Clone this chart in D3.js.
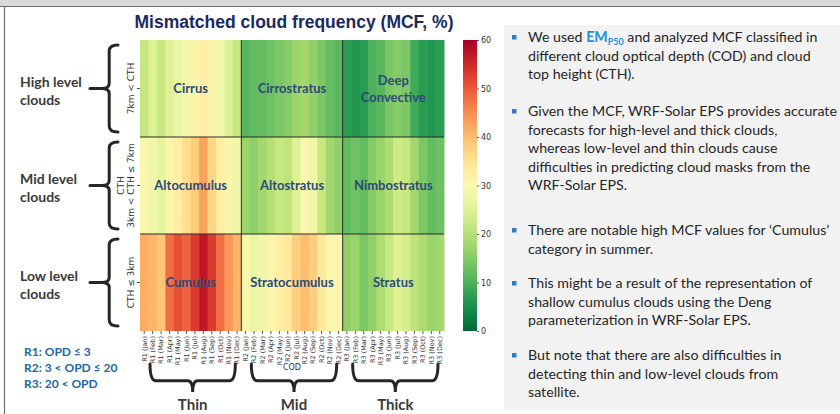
<!DOCTYPE html>
<html>
<head>
<meta charset="utf-8">
<script src="https://cdn.jsdelivr.net/npm/d3@7"></script>
<style>
    html, body { margin: 0; padding: 0; background: #fff; }
    svg { display: block; }
</style>
</head>
<body>
<svg id="slide" width="840" height="414"></svg>
<script>
// Categories
const months = ["Jan", "Feb", "Mar", "Apr", "May", "Jun", "Jul", "Aug", "Sep", "Oct", "Nov", "Dec"];
const regimes = ["R1", "R2", "R3"];
const levels = ["High", "Mid", "Low"];

// MCF (%) per column: R1 Jan..Dec, R2 Jan..Dec, R3 Jan..Dec
const highMCF = [22, 25, 22, 25, 27, 29, 31, 33, 31, 28, 25, 22,
                 11, 12, 12, 13, 14, 15, 17, 18, 16, 14, 12, 11,
                 7, 6, 7, 10, 11, 14, 15, 14, 9, 7, 6, 7];
const midMCF = [30, 28, 26, 31, 33, 36, 38, 43, 37, 33, 31, 28,
                17, 16, 18, 20, 22, 21, 25, 30, 28, 22, 18, 16,
                12, 13, 12, 15, 17, 19, 23, 22, 18, 14, 12, 13];
const lowMCF = [42, 41, 39, 48, 51, 49, 53, 57, 53, 48, 44, 41,
                31, 27, 28, 31, 33, 34, 38, 40, 38, 34, 30, 31,
                16, 17, 14, 16, 19, 22, 25, 24, 21, 19, 17, 18];

// Cloud type names per cell block
const cloudTypes = [
    ["Cirrus", "Cirrostratus", "Deep|Convective"],
    ["Altocumulus", "Altostratus", "Nimbostratus"],
    ["Cumulus", "Stratocumulus", "Stratus"]
];

const levelNames = ["High level|clouds", "Mid level|clouds", "Low level|clouds"];
const cthLabels = ["7km < CTH", "CTH|3km < CTH ≤ 7km", "CTH ≤ 3km"];
const groupNames = ["Thin", "Mid", "Thick"];
const rangeNotes = ["R1: OPD ≤ 3", "R2: 3 < OPD ≤ 20", "R3: 20 < OPD"];
const colorTicks = [0, 10, 20, 30, 40, 50, 60];

// Bullet text (lines as on the slide)
const bullets = [
    ["We used {EM} and analyzed MCF classified in", "different cloud optical depth (COD) and cloud", "top height (CTH)."],
    ["Given the MCF, WRF-Solar EPS provides accurate", "forecasts for high-level and thick clouds,", "whereas low-level and thin clouds cause", "difficulties in predicting cloud masks from the", "WRF-Solar EPS."],
    ["There are notable high MCF values for ‘Cumulus’", "category in summer."],
    ["This might be a result of the representation of", "shallow cumulus clouds using the Deng", "parameterization in WRF-Solar EPS."],
    ["But note that there are also difficulties in", "detecting thin and low-level clouds from", "satellite."]
];
const bulletY = [42, 116, 235, 288, 360];

const columns = [];
regimes.forEach(r => months.forEach(m => columns.push(`${r} (${m})`)));
const values = [highMCF, midMCF, lowMCF];

const svg = d3.select("#slide");
const font = "Lato, 'Noto Sans', sans-serif";

// Slide frame
svg.append("rect").attr("x", 0).attr("y", 0).attr("width", 840).attr("height", 6).attr("fill", "#d9d9d9");
svg.append("line").attr("x1", 0).attr("x2", 840).attr("y1", 6.5).attr("y2", 6.5).attr("stroke", "#6f6f6f").attr("stroke-width", 1.2);
svg.append("line").attr("x1", 4.5).attr("x2", 4.5).attr("y1", 6).attr("y2", 414).attr("stroke", "#6f6f6f").attr("stroke-width", 1.2);

// Right panel
svg.append("rect").attr("x", 504).attr("y", 25).attr("width", 336).attr("height", 384).attr("fill", "#f2f2f2");

// Scales
const x = d3.scaleBand().domain(columns).range([140, 444]);
const y = d3.scaleBand().domain(levels).range([40, 331]);
const color = d3.scaleSequential(t => d3.interpolateRdYlGn(1 - t)).domain([0, 60]);

// Title
svg.append("text")
    .attr("x", 294).attr("y", 28)
    .attr("text-anchor", "middle")
    .attr("font-family", "'Liberation Sans', Arial, sans-serif")
    .attr("font-weight", "bold")
    .attr("font-size", 17.5)
    .attr("fill", "#1b2a5e")
    .text("Mismatched cloud frequency (MCF, %)");

// Heatmap cells
const cells = [];
levels.forEach((lv, i) => columns.forEach((c, j) => cells.push({ level: lv, col: c, v: values[i][j] })));

svg.append("g")
    .selectAll("rect")
    .data(cells)
    .join("rect")
    .attr("x", d => x(d.col))
    .attr("y", d => y(d.level))
    .attr("width", x.bandwidth() + 0.5)
    .attr("height", y.bandwidth())
    .attr("fill", d => color(d.v));

// Block separators
const sep = svg.append("g").attr("stroke", "#2b2b2b").attr("stroke-width", 1);
[1, 2].forEach(k => {
    const yy = y(levels[k]);
    sep.append("line").attr("x1", 140).attr("x2", 444).attr("y1", yy).attr("y2", yy);
    const xx = x(regimes[k] + " (Jan)");
    sep.append("line").attr("x1", xx).attr("x2", xx).attr("y1", 40).attr("y2", 331);
});

// Cloud type labels
cloudTypes.forEach((row, i) => {
    row.forEach((name, k) => {
        const cx = x(regimes[k] + " (Jan)") + x.bandwidth() * 6;
        const cy = y(levels[i]) + y.bandwidth() / 2;
        const lines = name.split("|");
        const t = svg.append("text")
            .attr("text-anchor", "middle")
            .attr("font-family", font)
            .attr("font-weight", "bold")
            .attr("font-size", 13)
            .attr("fill", "#2c4a7c");
        lines.forEach((ln, li) => {
            t.append("tspan")
                .attr("x", cx)
                .attr("y", cy + 4.5 + (li - (lines.length - 1) / 2) * 17)
                .text(ln);
        });
    });
});

// X axis (rotated month labels)
const xAxis = svg.append("g")
    .attr("transform", "translate(0,331)")
    .call(d3.axisBottom(x).tickSize(3).tickPadding(2));
xAxis.select(".domain").remove();
xAxis.selectAll(".tick line").attr("stroke", "#555");
xAxis.selectAll(".tick text")
    .attr("font-family", "'DejaVu Sans', sans-serif")
    .attr("font-size", 6.5)
    .attr("fill", "#333")
    .attr("text-anchor", "end")
    .attr("transform", "rotate(-90)")
    .attr("x", -5)
    .attr("y", 0)
    .attr("dy", "0.35em");

svg.append("text")
    .attr("x", 292).attr("y", 370)
    .attr("text-anchor", "middle")
    .attr("font-family", "'DejaVu Sans', sans-serif")
    .attr("font-size", 8)
    .attr("fill", "#333")
    .text("COD");

// Y axis (CTH labels)
const yAxis = svg.append("g")
    .attr("transform", "translate(140,0)")
    .call(d3.axisLeft(y).tickSize(3).tickFormat(""));
yAxis.select(".domain").remove();
yAxis.selectAll(".tick line").attr("stroke", "#555");

cthLabels.forEach((lab, i) => {
    const cy = y(levels[i]) + y.bandwidth() / 2;
    const lines = lab.split("|");
    const t = svg.append("text")
        .attr("transform", `translate(${131},${cy}) rotate(-90)`)
        .attr("text-anchor", "middle")
        .attr("font-family", "'DejaVu Sans', sans-serif")
        .attr("font-size", 9)
        .attr("fill", "#333");
    lines.forEach((ln, li) => {
        t.append("tspan")
            .attr("x", 0)
            .attr("y", 3 + (li - (lines.length - 1)) * 10)
            .text(ln);
    });
});

// Colour bar
const defs = svg.append("defs");
const grad = defs.append("linearGradient")
    .attr("id", "cbar")
    .attr("x1", 0).attr("x2", 0).attr("y1", 1).attr("y2", 0);
d3.range(0, 1.0001, 0.05).forEach(t => {
    grad.append("stop").attr("offset", t).attr("stop-color", color(t * 60));
});
const cbScale = d3.scaleLinear().domain([0, 60]).range([331, 40]);
svg.append("rect")
    .attr("x", 463).attr("y", 40)
    .attr("width", 14).attr("height", 291)
    .attr("fill", "url(#cbar)");
const cAxis = svg.append("g")
    .attr("transform", "translate(477,0)")
    .call(d3.axisRight(cbScale).tickValues(colorTicks).tickSize(2).tickPadding(2));
cAxis.select(".domain").remove();
cAxis.selectAll(".tick line").attr("stroke", "#555");
cAxis.selectAll(".tick text")
    .attr("font-family", "'DejaVu Sans', sans-serif")
    .attr("font-size", 8)
    .attr("fill", "#333");

// Curly braces
function braceV(x0, y0, y1, depth) {
    // opening brace "{" : hooks at right (x0), tip at left
    const ym = (y0 + y1) / 2;
    const xb = x0 - depth * 0.55;
    const xt = x0 - depth;
    return `M${x0},${y0} Q${xb},${y0} ${xb},${y0 + 6} L${xb},${ym - 5} Q${xb},${ym} ${xt},${ym}` +
           ` Q${xb},${ym} ${xb},${ym + 5} L${xb},${y1 - 6} Q${xb},${y1} ${x0},${y1}`;
}
function braceH(x0, x1, y0, depth) {
    const xm = (x0 + x1) / 2;
    const yb = y0 + depth * 0.6;
    const yt = y0 + depth;
    return `M${x0},${y0} Q${x0},${yb} ${x0 + 6},${yb} L${xm - 5},${yb} Q${xm},${yb} ${xm},${yt}` +
           ` Q${xm},${yb} ${xm + 5},${yb} L${x1 - 6},${yb} Q${x1},${yb} ${x1},${y0}`;
}

const braceG = svg.append("g")
    .attr("fill", "none")
    .attr("stroke", "#262626")
    .attr("stroke-width", 3)
    .attr("stroke-linecap", "round");

levels.forEach((lv, i) => {
    const y0 = y(lv) + 5, y1 = y(lv) + y.bandwidth() - 5;
    braceG.append("path").attr("d", braceV(118, y0, y1, 16));
    const ym = (y0 + y1) / 2;
    braceG.append("line").attr("x1", 90).attr("x2", 102).attr("y1", ym).attr("y2", ym);

    const lines = levelNames[i].split("|");
    const t = svg.append("text")
        .attr("font-family", font)
        .attr("font-weight", "bold")
        .attr("font-size", 14)
        .attr("fill", "#3a3a3a");
    lines.forEach((ln, li) => {
        t.append("tspan").attr("x", 20).attr("y", ym - 2 + li * 18).text(ln);
    });
});

regimes.forEach((r, k) => {
    const x0 = x(r + " (Jan)") + 10;
    const x1 = x(r + " (Dec)") + x.bandwidth() - 6;
    braceG.append("path").attr("d", braceH(x0, x1, 364, 28));
    svg.append("text")
        .attr("x", (x0 + x1) / 2)
        .attr("y", 410)
        .attr("text-anchor", "middle")
        .attr("font-family", font)
        .attr("font-weight", "bold")
        .attr("font-size", 15)
        .attr("fill", "#3a3a3a")
        .text(groupNames[k]);
});

// R notes
rangeNotes.forEach((n, i) => {
    svg.append("text")
        .attr("x", 24).attr("y", 356 + i * 16)
        .attr("font-family", font)
        .attr("font-weight", "bold")
        .attr("font-size", 12)
        .attr("fill", "#2166a6")
        .text(n);
});

// Bullets
bullets.forEach((lines, b) => {
    svg.append("rect")
        .attr("x", 512).attr("y", bulletY[b] - 7)
        .attr("width", 4.5).attr("height", 4.5)
        .attr("fill", "#2e7dc6");
    lines.forEach((ln, li) => {
        const t = svg.append("text")
            .attr("x", 528).attr("y", bulletY[b] + li * 18.6)
            .attr("font-family", font)
            .attr("font-size", 14.2)
            .attr("fill", "#262626");
        if (ln.includes("{EM}")) {
            const parts = ln.split("{EM}");
            t.append("tspan").text(parts[0]);
            t.append("tspan").attr("font-weight", "bold").attr("fill", "#1f8fe0").text("EM");
            t.append("tspan").attr("font-weight", "bold").attr("fill", "#1f8fe0")
                .attr("font-size", 9).attr("dy", 3).text("P50");
            t.append("tspan").attr("dy", -3).text(parts[1]);
        } else {
            t.text(ln);
        }
    });
});
</script>
</body>
</html>
